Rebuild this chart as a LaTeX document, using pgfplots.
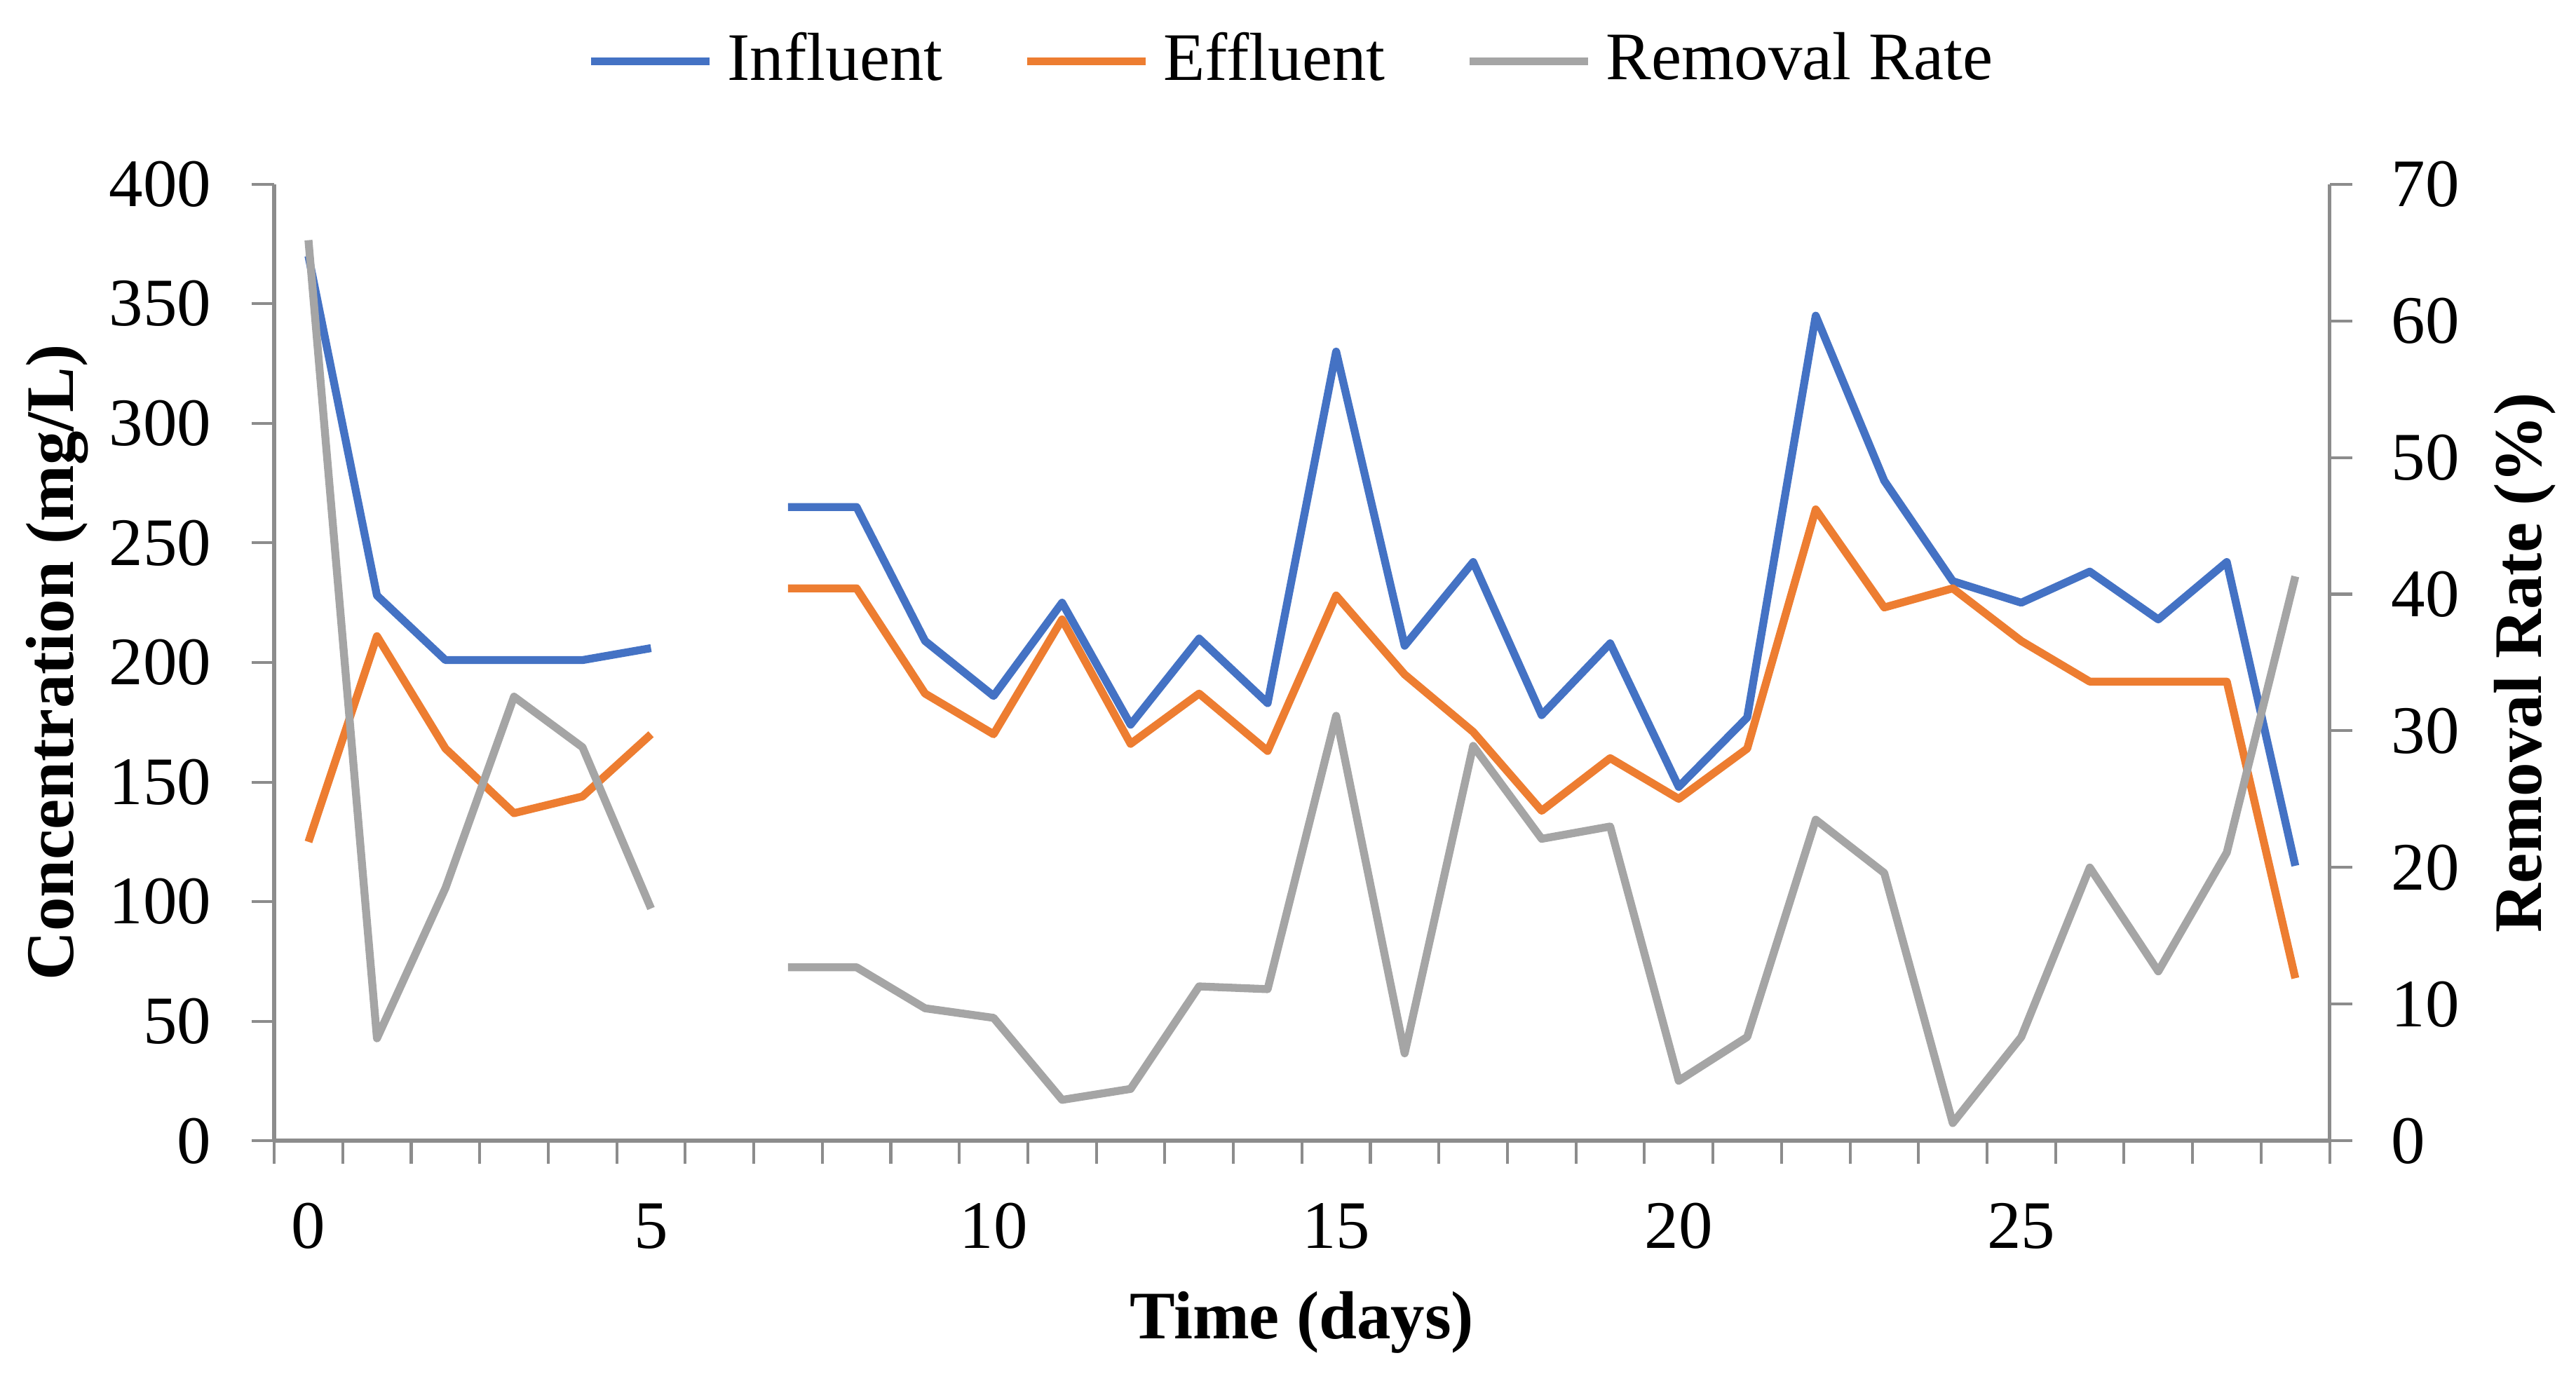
\documentclass[12pt,border=0pt]{standalone}
\usepackage{fontspec}
\setmainfont{Liberation Serif}
\usepackage{pgfplots}
\pgfplotsset{compat=1.18}

\definecolor{infl}{HTML}{4472C4}
\definecolor{effl}{HTML}{ED7D31}
\definecolor{remr}{HTML}{A5A5A5}
\definecolor{axgray}{HTML}{8C8C8C}

\pgfplotsset{
  common/.style={
    scale only axis, width=362.8pt, height=168.9pt,
    xmin=-0.5, xmax=29.5,
    tick align=outside, major tick length=4pt, minor tick length=4pt,
    /pgf/number format/assume math mode=true,
    tick label style={font=\fontsize{12}{14}\selectfont, inner sep=0pt},
    axis line style={draw=axgray, line width=0.7pt},
    tick style={draw=axgray, line width=0.5pt},
    minor tick style={draw=axgray, line width=0.5pt},
    unbounded coords=jump,
    line join=round,
  },
  ser/.style={line width=1.4pt, line join=round, no markers},
}

\begin{document}
\begin{tikzpicture}
\path[use as bounding box] (-48.4pt,-42pt) rectangle (406.3pt,201.4pt);

\begin{axis}[common,
  axis x line*=bottom, axis y line*=left,
  ymin=0, ymax=400, ytick={0,50,...,400},
  xtick={0,5,...,25}, major x tick style={draw=none},
  minor xtick={-0.5,0.5,...,29.5},
  xticklabel style={anchor=base, yshift=-15pt},
  yticklabel style={anchor=east, xshift=-6.9pt},
  xlabel={\textbf{Time (days)}},
  ylabel={\textbf{Concentration (mg/L)}},
  every axis x label/.style={at={(axis description cs:0.5,-0.1895)}, anchor=center},
  every axis y label/.style={at={(axis description cs:-0.1056,0.5)}, rotate=90, anchor=center},
  legend style={at={(0.4977,1.1285)}, anchor=center, draw=none, fill=none,
    legend columns=-1, font=\fontsize{12}{14}\selectfont,
    nodes={inner xsep=2.5pt},
    /tikz/every even column/.append style={column sep=11.7pt}},
  legend image code/.code={\draw[#1, line cap=butt] (0pt,0pt) -- (20.9pt,0pt);},
]
\addplot[ser, infl] coordinates {
  (0,370) (1,228) (2,201) (3,201) (4,201) (5,206) (6,nan)
  (7,265) (8,265) (9,209) (10,186) (11,225) (12,174) (13,210) (14,183)
  (15,330) (16,207) (17,242) (18,178) (19,208) (20,148) (21,177) (22,345)
  (23,276) (24,234) (25,225) (26,238) (27,218) (28,242) (29,115)
};
\addplot[ser, effl] coordinates {
  (0,125) (1,211) (2,164) (3,137) (4,144) (5,170) (6,nan)
  (7,231) (8,231) (9,187) (10,170) (11,218) (12,166) (13,187) (14,163)
  (15,228) (16,195) (17,171) (18,138) (19,160) (20,143) (21,164) (22,264)
  (23,223) (24,231) (25,209) (26,192) (27,192) (28,192) (29,68)
};
\addlegendimage{ser, remr}
\legend{Influent, Effluent, Removal Rate}
\end{axis}

\begin{axis}[common,
  axis y line*=right, axis x line=none,
  ymin=0, ymax=70, ytick={0,10,...,70},
  yticklabel style={anchor=west, xshift=6.7pt},
  ylabel={\textbf{Removal Rate (\%)}},
  every axis y label/.style={at={(axis description cs:1.0951,0.5)}, rotate=90, anchor=center},
]
\addplot[ser, remr] coordinates {
  (0,65.9) (1,7.5) (2,18.5) (3,32.5) (4,28.8) (5,17.0) (6,nan)
  (7,12.7) (8,12.7) (9,9.7) (10,9.0) (11,3.0) (12,3.8) (13,11.3) (14,11.1)
  (15,31.1) (16,6.4) (17,28.9) (18,22.1) (19,23.0) (20,4.4) (21,7.6) (22,23.5)
  (23,19.6) (24,1.3) (25,7.6) (26,20.0) (27,12.4) (28,21.1) (29,41.3)
};
\end{axis}
\end{tikzpicture}
\end{document}
